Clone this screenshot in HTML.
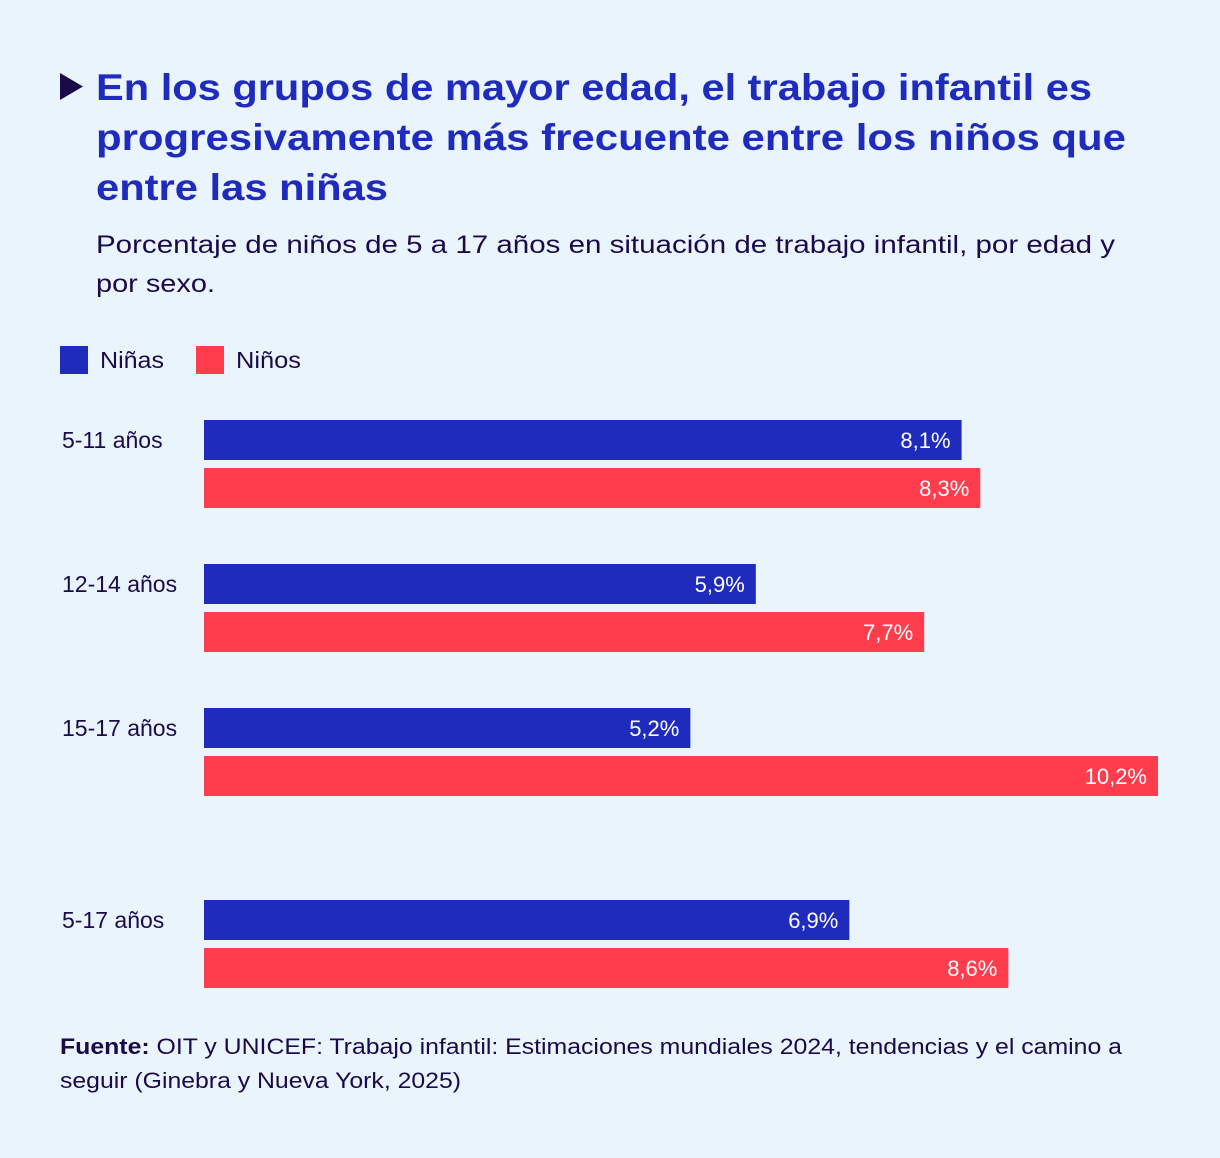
<!DOCTYPE html>
<html><head><meta charset="utf-8">
<style>
html,body{margin:0;padding:0;background:#eaf4fc;}
svg{display:block;font-family:"Liberation Sans",sans-serif;}
</style></head>
<body>
<svg id="chart" width="1220" height="1158" viewBox="0 0 1220 1158">
<rect width="1220" height="1158" fill="#eaf4fc"/>
<polygon points="60,73 83,86.5 60,100" fill="#1a0a4a"/>
<g fill="#1f2bbd" font-weight="bold" font-size="37">
<text x="96" y="100" textLength="996" lengthAdjust="spacingAndGlyphs">En los grupos de mayor edad, el trabajo infantil es</text>
<text x="96" y="150" textLength="1030" lengthAdjust="spacingAndGlyphs">progresivamente más frecuente entre los niños que</text>
<text x="96" y="200" textLength="292" lengthAdjust="spacingAndGlyphs">entre las niñas</text>
</g>
<g fill="#1a0a4a" font-size="25">
<text x="96" y="253" textLength="1019" lengthAdjust="spacingAndGlyphs">Porcentaje de niños de 5 a 17 años en situación de trabajo infantil, por edad y</text>
<text x="96" y="292" textLength="119" lengthAdjust="spacingAndGlyphs">por sexo.</text>
</g>
<g>
<rect x="60" y="346" width="28" height="28" fill="#1f2bbd"/>
<text x="100" y="368" font-size="23" fill="#1a0a4a" textLength="64" lengthAdjust="spacingAndGlyphs">Niñas</text>
<rect x="196" y="346" width="28" height="28" fill="#ff3d4d"/>
<text x="236" y="368" font-size="23" fill="#1a0a4a" textLength="65" lengthAdjust="spacingAndGlyphs">Niños</text>
</g>
<g id="bars"></g>
<g fill="#1a0a4a" font-size="22">
<text x="60" y="1054" textLength="1062" lengthAdjust="spacingAndGlyphs"><tspan font-weight="bold">Fuente:</tspan> OIT y UNICEF: Trabajo infantil: Estimaciones mundiales 2024, tendencias y el camino a</text>
<text x="60" y="1088" textLength="401" lengthAdjust="spacingAndGlyphs">seguir (Ginebra y Nueva York, 2025)</text>
</g>
</svg>
<script>
const categories = ["5-11 años","12-14 años","15-17 años","5-17 años"];
const ninas = [8.1, 5.9, 5.2, 6.9];
const ninos = [8.3, 7.7, 10.2, 8.6];
const groupTops = [420, 564, 708, 900];
const x0 = 204, pxPer = 954/10.2, barH = 40;
const xs = v => pxPer * v;
const fmt = v => v.toFixed(1).replace('.', ',') + '%';
const NS = "http://www.w3.org/2000/svg";
const g = document.getElementById('bars');
function mk(tag, attrs){const e=document.createElementNS(NS,tag);for(const k in attrs)e.setAttribute(k,attrs[k]);g.appendChild(e);return e;}
categories.forEach((c,i)=>{
  const y = groupTops[i];
  const lab = mk('text',{x:62,y:y+28,'font-size':23,fill:'#1a0a4a'});
  lab.textContent = c;
  
  
  [[ninas[i],'#1f2bbd',y,'bar-ninas'],[ninos[i],'#ff3d4d',y+48,'bar-ninos']].forEach(([v,col,yy,nm])=>{
    const r = mk('rect',{x:x0,y:yy,width:xs(v),height:barH,fill:col});
    
    
    const t = mk('text',{x:x0+xs(v)-11,y:yy+28,'font-size':22,fill:'#fff','text-anchor':'end'});
    t.textContent = fmt(v);
    
    
  });
});
</script>
</body></html>
